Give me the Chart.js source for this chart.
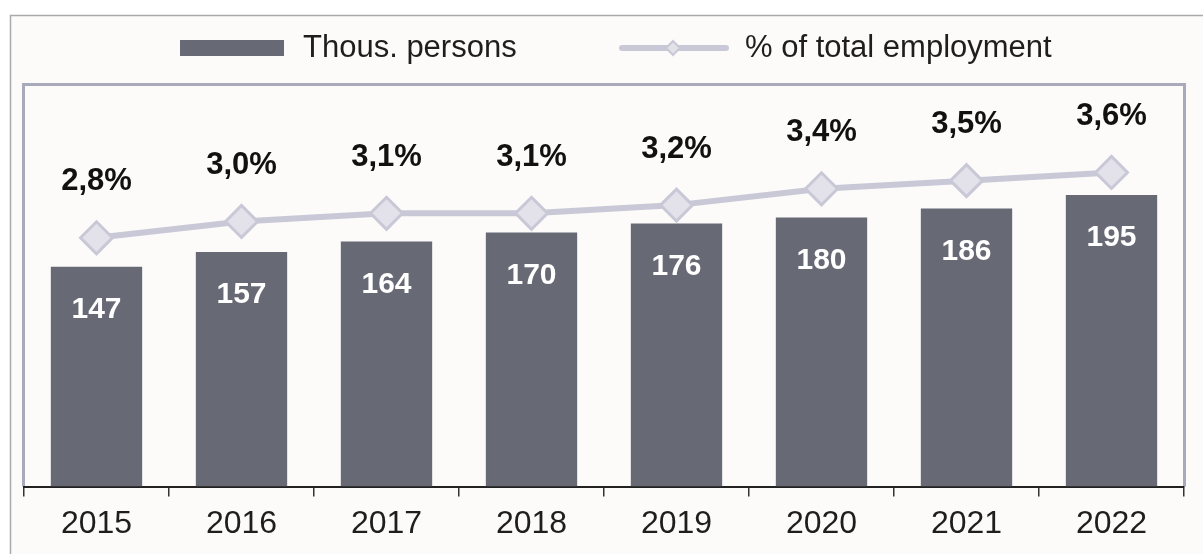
<!DOCTYPE html>
<html>
<head>
<meta charset="utf-8">
<script src="https://cdn.jsdelivr.net/npm/chart.js@4.4.0/dist/chart.umd.min.js"></script>
<style>
  html, body { margin: 0; padding: 0; background: #fff; }
  #wrap { width: 1203px; height: 554px; }
</style>
</head>
<body>
<div id="wrap"><canvas id="myChart" width="1203" height="554"></canvas></div>
<script>
var years = ['2015', '2016', '2017', '2018', '2019', '2020', '2021', '2022'];
var persons = [147, 157, 164, 170, 176, 180, 186, 195];
var shareOfTotal = [2.8, 3.0, 3.1, 3.1, 3.2, 3.4, 3.5, 3.6];
var seriesNames = ['Thous. persons', '% of total employment'];

var FONT = '"Liberation Sans", Arial, sans-serif';
var barColor = '#676a75';
var lineColor = '#c9c8d6';

// background, outer border and the box round the plot
var framePlugin = {
    id: 'frame',
    beforeDraw: function (chart) {
        var ctx = chart.ctx;
        var a = chart.chartArea;
        ctx.save();
        ctx.fillStyle = '#ffffff';
        ctx.fillRect(0, 0, chart.width, chart.height);
        ctx.fillStyle = '#fcfbfa';
        ctx.fillRect(10, 15, chart.width - 10, chart.height - 15);
        ctx.strokeStyle = '#aaaaaa';
        ctx.lineWidth = 1.5;
        ctx.beginPath();
        ctx.moveTo(10.5, chart.height);
        ctx.lineTo(10.5, 15.5);
        ctx.lineTo(chart.width, 15.5);
        ctx.stroke();

        ctx.strokeStyle = '#a9a9bc';
        ctx.lineWidth = 3;
        ctx.beginPath();
        ctx.moveTo(a.left - 0.5, a.bottom);
        ctx.lineTo(a.left - 0.5, a.top - 1.5);
        ctx.lineTo(a.right + 0.5, a.top - 1.5);
        ctx.lineTo(a.right + 0.5, a.bottom);
        ctx.stroke();
        ctx.restore();
    }
};

// value labels and legend
var labelPlugin = {
    id: 'valueLabels',
    afterDatasetsDraw: function (chart) {
        var ctx = chart.ctx;
        ctx.save();
        ctx.textAlign = 'center';
        ctx.textBaseline = 'middle';

        var bars = chart.getDatasetMeta(0).data;
        ctx.fillStyle = '#ffffff';
        ctx.font = 'bold 30px ' + FONT;
        bars.forEach(function (el, i) {
            ctx.fillText(String(persons[i]), el.x, el.y + 43);
        });

        var pts = chart.getDatasetMeta(1).data;
        ctx.fillStyle = '#111111';
        ctx.font = 'bold 31px ' + FONT;
        pts.forEach(function (el, i) {
            ctx.fillText(shareOfTotal[i].toFixed(1).replace('.', ',') + '%', el.x, el.y - 56);
        });

        // legend
        ctx.textAlign = 'left';
        ctx.font = '31px ' + FONT;
        ctx.fillStyle = barColor;
        ctx.fillRect(180, 40, 104, 16);
        ctx.fillStyle = '#1e1e1e';
        ctx.fillText(seriesNames[0], 303, 48);

        ctx.strokeStyle = lineColor;
        ctx.lineWidth = 6;
        ctx.lineCap = 'round';
        ctx.beginPath();
        ctx.moveTo(622, 48);
        ctx.lineTo(726, 48);
        ctx.stroke();
        ctx.fillStyle = '#e3e2ea';
        ctx.lineWidth = 2;
        ctx.beginPath();
        ctx.moveTo(673, 41);
        ctx.lineTo(680, 48);
        ctx.lineTo(673, 55);
        ctx.lineTo(666, 48);
        ctx.closePath();
        ctx.fill();
        ctx.stroke();
        ctx.fillStyle = '#1e1e1e';
        ctx.fillText(seriesNames[1], 745, 48);
        ctx.restore();
    }
};

var ctx = document.getElementById('myChart').getContext('2d');
var chart = new Chart(ctx, {
    data: {
        labels: years,
        datasets: [{
            type: 'bar',
            label: seriesNames[0],
            data: persons,
            backgroundColor: barColor,
            barPercentage: 0.63,
            categoryPercentage: 1,
            yAxisID: 'y',
            order: 1
        }, {
            type: 'line',
            label: seriesNames[1],
            data: shareOfTotal,
            borderColor: lineColor,
            borderWidth: 6,
            pointStyle: 'rectRot',
            pointRadius: 16,
            pointHoverRadius: 16,
            pointBackgroundColor: '#e3e2ea',
            pointBorderColor: lineColor,
            pointBorderWidth: 3,
            tension: 0,
            yAxisID: 'y1',
            order: 0
        }]
    },
    options: {
        responsive: false,
        animation: false,
        layout: {
            padding: { left: 24, right: 19, top: 86, bottom: 3 }
        },
        plugins: {
            legend: { display: false },
            tooltip: { enabled: false }
        },
        scales: {
            x: {
                offset: true,
                grid: {
                    offset: true,
                    drawOnChartArea: false,
                    drawTicks: true,
                    tickLength: 10,
                    color: '#333333',
                    lineWidth: 1.5
                },
                border: { display: true, color: '#222222', width: 2 },
                ticks: {
                    color: '#1e1e1e',
                    padding: 8,
                    font: { family: FONT, size: 32 }
                }
            },
            y: {
                display: false,
                min: 0,
                max: 268
            },
            y1: {
                display: false,
                min: -0.25,
                max: 4.66
            }
        }
    },
    plugins: [framePlugin, labelPlugin]
});
</script>
</body>
</html>
